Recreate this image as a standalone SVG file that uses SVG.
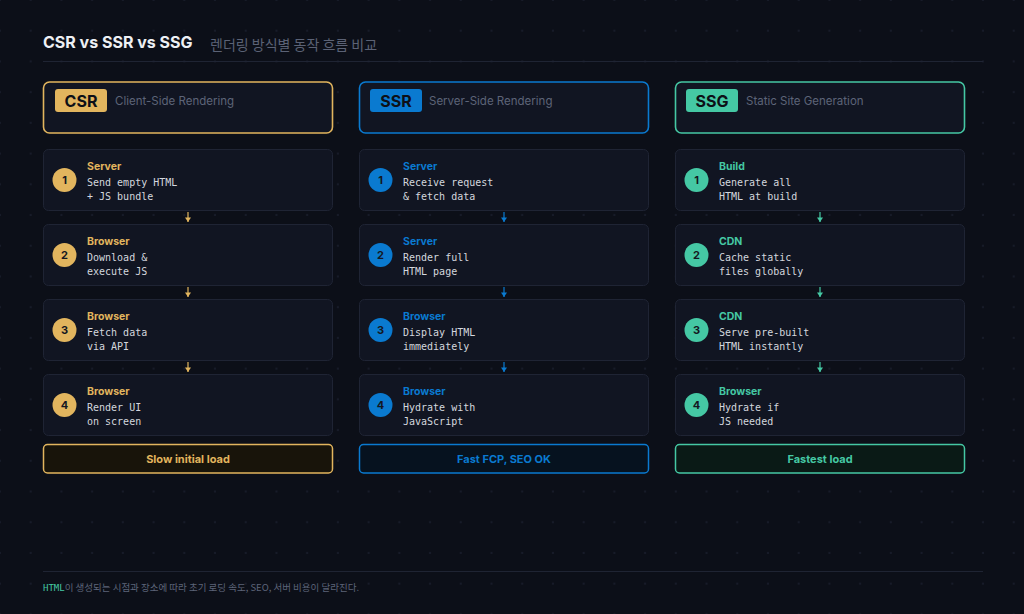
<svg xmlns="http://www.w3.org/2000/svg" width="1024" height="614" viewBox="0 0 1024 614">
<defs>
<pattern id="grid" x="0" y="0" width="30.72" height="30.72" patternUnits="userSpaceOnUse">
<path d="M29.72 30.72h2M30.72 29.72v2M-1 0h2M0 -1v2M29.72 0h2M30.72 -1v2M-1 30.72h2M0 29.72v2" stroke="#1c2130" stroke-width="0.8"/>
</pattern>
<marker id="ah-csr" viewBox="0 0 8 8" refX="4" refY="8" markerWidth="6" markerHeight="6" markerUnits="userSpaceOnUse"><path d="M0 2L4 8L8 2Z" fill="#e2b55e"/></marker>
<marker id="ah-ssr" viewBox="0 0 8 8" refX="4" refY="8" markerWidth="6" markerHeight="6" markerUnits="userSpaceOnUse"><path d="M0 2L4 8L8 2Z" fill="#0a7ad0"/></marker>
<marker id="ah-ssg" viewBox="0 0 8 8" refX="4" refY="8" markerWidth="6" markerHeight="6" markerUnits="userSpaceOnUse"><path d="M0 2L4 8L8 2Z" fill="#45c8a4"/></marker>
<style>
.sans{font-family:Inter,"Liberation Sans","Noto Sans CJK KR",sans-serif}
.mono{font-family:"DejaVu Sans Mono","Liberation Mono",monospace}
.kr{font-family:"Noto Sans CJK KR",sans-serif}
.hdr{fill:#111522;stroke-width:1.6}
.step{fill:#111522;stroke:#1f2434;stroke-width:1}
.badge-t{font-family:Inter,"Liberation Sans",sans-serif;font-weight:700;font-size:16px;fill:#0d1017;text-anchor:middle}
.sub{font-family:Inter,"Liberation Sans",sans-serif;font-size:11.5px;fill:#5d6478}
.num{font-family:Inter,"Liberation Sans",sans-serif;font-weight:700;font-size:11px;fill:#141722;text-anchor:middle}
.stitle{font-family:Inter,"Liberation Sans",sans-serif;font-weight:700;font-size:10.5px}
.desc{font-family:"DejaVu Sans Mono","Liberation Mono",monospace;font-size:10px;fill:#d4d7de}
.res-t{font-family:Inter,"Liberation Sans",sans-serif;font-weight:700;font-size:11px;text-anchor:middle}
.csr{fill:#e2b55e}.ssr{fill:#0a7ad0}.ssg{fill:#45c8a4}
</style>
</defs>
<rect width="1024" height="614" fill="#0c0f18"/>
<rect width="1024" height="614" fill="url(#grid)"/>

<g id="title">
<text x="43" y="48" class="sans" font-size="16" font-weight="700" fill="#eef0f4">CSR vs SSR vs SSG</text>
<text x="210" y="50" class="kr" font-size="14" fill="#5b6275">렌더링 방식별 동작 흐름 비교</text>
<line x1="43" y1="61.5" x2="983" y2="61.5" stroke="#1f2433" stroke-width="1.2"/>
</g>

<!-- CSR column -->
<g id="csr-header">
<rect x="43.5" y="82" width="289" height="51" rx="6" class="hdr" stroke="#e2b55e"/>
<rect x="55" y="89" width="52" height="23" rx="3" fill="#e2b55e"/>
<text x="81" y="106.5" class="badge-t">CSR</text>
<text x="115" y="105" class="sub">Client-Side Rendering</text>
</g>
<g id="csr-1">
<rect x="43.5" y="149.5" width="289" height="61" rx="5" class="step"/>
<circle cx="64.5" cy="180" r="12" class="csr"/>
<text x="64.5" y="184" class="num">1</text>
<text x="87" y="170" class="stitle csr">Server</text>
<text x="87" y="186" class="desc">Send empty HTML</text>
<text x="87" y="200" class="desc">+ JS bundle</text>
</g>
<g id="csr-2">
<rect x="43.5" y="224.5" width="289" height="61" rx="5" class="step"/>
<circle cx="64.5" cy="255" r="12" class="csr"/>
<text x="64.5" y="259" class="num">2</text>
<text x="87" y="245" class="stitle csr">Browser</text>
<text x="87" y="261" class="desc">Download &amp;</text>
<text x="87" y="275" class="desc">execute JS</text>
</g>
<g id="csr-3">
<rect x="43.5" y="299.5" width="289" height="61" rx="5" class="step"/>
<circle cx="64.5" cy="330" r="12" class="csr"/>
<text x="64.5" y="334" class="num">3</text>
<text x="87" y="320" class="stitle csr">Browser</text>
<text x="87" y="336" class="desc">Fetch data</text>
<text x="87" y="350" class="desc">via API</text>
</g>
<g id="csr-4">
<rect x="43.5" y="374.5" width="289" height="61" rx="5" class="step"/>
<circle cx="64.5" cy="405" r="12" class="csr"/>
<text x="64.5" y="409" class="num">4</text>
<text x="87" y="395" class="stitle csr">Browser</text>
<text x="87" y="411" class="desc">Render UI</text>
<text x="87" y="425" class="desc">on screen</text>
</g>
<g id="csr-result">
<rect x="43.5" y="444.5" width="289" height="28.5" rx="4" fill="#18140a" stroke="#e2b55e" stroke-width="1.5"/>
<text x="188" y="462.5" class="res-t csr">Slow initial load</text>
</g>

<!-- SSR column -->
<g id="ssr-header">
<rect x="359.5" y="82" width="289" height="51" rx="6" class="hdr" stroke="#0a7ad0"/>
<rect x="370" y="89" width="52" height="23" rx="3" fill="#0a7ad0"/>
<text x="396" y="106.5" class="badge-t">SSR</text>
<text x="429" y="105" class="sub">Server-Side Rendering</text>
</g>
<g id="ssr-1">
<rect x="359.5" y="149.5" width="289" height="61" rx="5" class="step"/>
<circle cx="380.5" cy="180" r="12" class="ssr"/>
<text x="380.5" y="184" class="num">1</text>
<text x="403" y="170" class="stitle ssr">Server</text>
<text x="403" y="186" class="desc">Receive request</text>
<text x="403" y="200" class="desc">&amp; fetch data</text>
</g>
<g id="ssr-2">
<rect x="359.5" y="224.5" width="289" height="61" rx="5" class="step"/>
<circle cx="380.5" cy="255" r="12" class="ssr"/>
<text x="380.5" y="259" class="num">2</text>
<text x="403" y="245" class="stitle ssr">Server</text>
<text x="403" y="261" class="desc">Render full</text>
<text x="403" y="275" class="desc">HTML page</text>
</g>
<g id="ssr-3">
<rect x="359.5" y="299.5" width="289" height="61" rx="5" class="step"/>
<circle cx="380.5" cy="330" r="12" class="ssr"/>
<text x="380.5" y="334" class="num">3</text>
<text x="403" y="320" class="stitle ssr">Browser</text>
<text x="403" y="336" class="desc">Display HTML</text>
<text x="403" y="350" class="desc">immediately</text>
</g>
<g id="ssr-4">
<rect x="359.5" y="374.5" width="289" height="61" rx="5" class="step"/>
<circle cx="380.5" cy="405" r="12" class="ssr"/>
<text x="380.5" y="409" class="num">4</text>
<text x="403" y="395" class="stitle ssr">Browser</text>
<text x="403" y="411" class="desc">Hydrate with</text>
<text x="403" y="425" class="desc">JavaScript</text>
</g>
<g id="ssr-result">
<rect x="359.5" y="444.5" width="289" height="28.5" rx="4" fill="#06121f" stroke="#0a7ad0" stroke-width="1.5"/>
<text x="504" y="462.5" class="res-t ssr">Fast FCP, SEO OK</text>
</g>

<!-- SSG column -->
<g id="ssg-header">
<rect x="675.5" y="82" width="289" height="51" rx="6" class="hdr" stroke="#45c8a4"/>
<rect x="686" y="89" width="52" height="23" rx="3" fill="#45c8a4"/>
<text x="712" y="106.5" class="badge-t">SSG</text>
<text x="746" y="105" class="sub">Static Site Generation</text>
</g>
<g id="ssg-1">
<rect x="675.5" y="149.5" width="289" height="61" rx="5" class="step"/>
<circle cx="696.5" cy="180" r="12" class="ssg"/>
<text x="696.5" y="184" class="num">1</text>
<text x="719" y="170" class="stitle ssg">Build</text>
<text x="719" y="186" class="desc">Generate all</text>
<text x="719" y="200" class="desc">HTML at build</text>
</g>
<g id="ssg-2">
<rect x="675.5" y="224.5" width="289" height="61" rx="5" class="step"/>
<circle cx="696.5" cy="255" r="12" class="ssg"/>
<text x="696.5" y="259" class="num">2</text>
<text x="719" y="245" class="stitle ssg">CDN</text>
<text x="719" y="261" class="desc">Cache static</text>
<text x="719" y="275" class="desc">files globally</text>
</g>
<g id="ssg-3">
<rect x="675.5" y="299.5" width="289" height="61" rx="5" class="step"/>
<circle cx="696.5" cy="330" r="12" class="ssg"/>
<text x="696.5" y="334" class="num">3</text>
<text x="719" y="320" class="stitle ssg">CDN</text>
<text x="719" y="336" class="desc">Serve pre-built</text>
<text x="719" y="350" class="desc">HTML instantly</text>
</g>
<g id="ssg-4">
<rect x="675.5" y="374.5" width="289" height="61" rx="5" class="step"/>
<circle cx="696.5" cy="405" r="12" class="ssg"/>
<text x="696.5" y="409" class="num">4</text>
<text x="719" y="395" class="stitle ssg">Browser</text>
<text x="719" y="411" class="desc">Hydrate if</text>
<text x="719" y="425" class="desc">JS needed</text>
</g>
<g id="ssg-result">
<rect x="675.5" y="444.5" width="289" height="28.5" rx="4" fill="#0a1a16" stroke="#45c8a4" stroke-width="1.5"/>
<text x="820" y="462.5" class="res-t ssg">Fastest load</text>
</g>

<g id="connectors" stroke-width="1.2" fill="none">
<line x1="188" y1="212" x2="188" y2="222" stroke="#e2b55e" marker-end="url(#ah-csr)"/>
<line x1="188" y1="287" x2="188" y2="297" stroke="#e2b55e" marker-end="url(#ah-csr)"/>
<line x1="188" y1="362" x2="188" y2="372" stroke="#e2b55e" marker-end="url(#ah-csr)"/>
<line x1="504" y1="212" x2="504" y2="222" stroke="#0a7ad0" marker-end="url(#ah-ssr)"/>
<line x1="504" y1="287" x2="504" y2="297" stroke="#0a7ad0" marker-end="url(#ah-ssr)"/>
<line x1="504" y1="362" x2="504" y2="372" stroke="#0a7ad0" marker-end="url(#ah-ssr)"/>
<line x1="820" y1="212" x2="820" y2="222" stroke="#45c8a4" marker-end="url(#ah-ssg)"/>
<line x1="820" y1="287" x2="820" y2="297" stroke="#45c8a4" marker-end="url(#ah-ssg)"/>
<line x1="820" y1="362" x2="820" y2="372" stroke="#45c8a4" marker-end="url(#ah-ssg)"/>
</g>

<g id="footer">
<line x1="43" y1="571.5" x2="983" y2="571.5" stroke="#1f2433" stroke-width="1.2"/>
<text x="43" y="591" font-size="9.5" fill="#5d6478" class="kr"><tspan class="mono" fill="#45c8a4" font-size="9">HTML</tspan>이 생성되는 시점과 장소에 따라 초기 로딩 속도, SEO, 서버 비용이 달라진다.</text>
</g>
</svg>
